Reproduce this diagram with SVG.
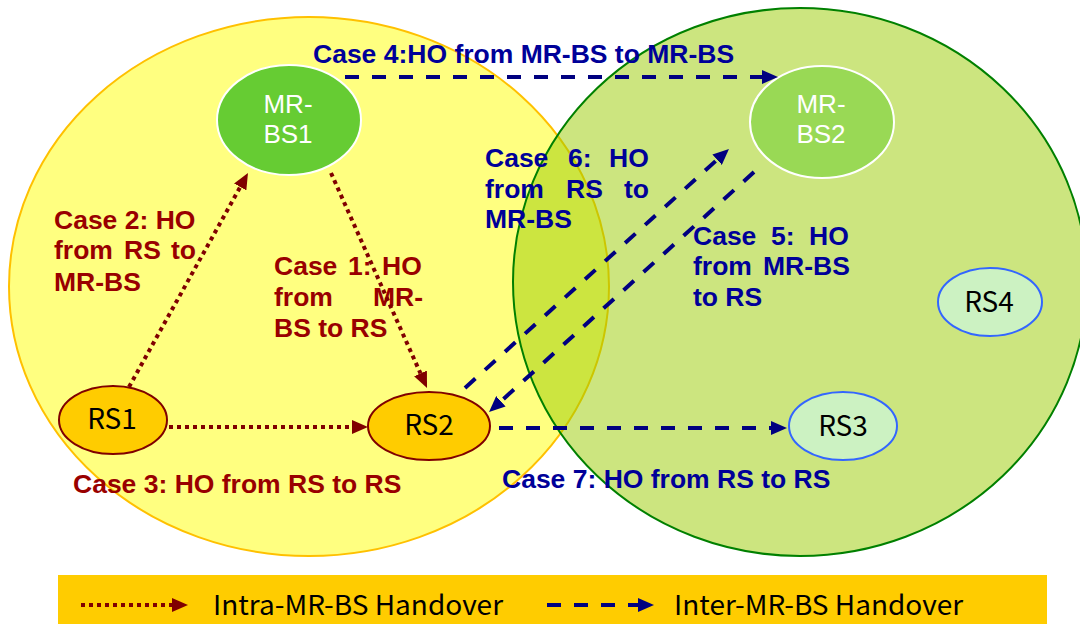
<svg xmlns="http://www.w3.org/2000/svg" width="1080" height="626" viewBox="0 0 1080 626">
<style>
.lbl{font-family:"Liberation Sans",Arial,sans-serif;font-weight:bold;font-size:26.5px}
.red{fill:#990000}
.blue{fill:#000099}
.bs{font-family:"Liberation Sans",Arial,sans-serif;font-size:26px;fill:#ffffff;text-anchor:middle}
.rs{font-family:"Noto Sans CJK KR","Liberation Sans",sans-serif;font-size:28px;fill:#000000;text-anchor:middle}
.leg{font-family:"Noto Sans CJK KR","Liberation Sans",sans-serif;font-size:27px;fill:#000000}
.intra{stroke:#800000;stroke-width:4;stroke-dasharray:4 4;fill:none}
.inter{stroke:#000080;stroke-width:4;stroke-dasharray:14 13;fill:none}
.rsy{fill:#ffcc00;stroke:#800000;stroke-width:2}
.rsg{fill:#ccf2c2;stroke:#3366ff;stroke-width:2}
</style>
<defs>
<marker id="ar" markerWidth="16" markerHeight="14" refX="0" refY="7" orient="auto" markerUnits="userSpaceOnUse"><path d="M0,0 L16,7 L0,14 z" fill="#800000"/></marker>
<marker id="ab" markerWidth="16" markerHeight="14" refX="0" refY="7" orient="auto" markerUnits="userSpaceOnUse"><path d="M0,0 L16,7 L0,14 z" fill="#000080"/></marker>
</defs>
<rect width="1080" height="626" fill="#ffffff"/>
<g id="cell1"><ellipse cx="309" cy="286.5" rx="300" ry="269.5" fill="#ffff80" stroke="#ffc000" stroke-width="2"/></g>
<g id="cell2"><ellipse cx="800" cy="282" rx="287" ry="274" fill="#99cc00" fill-opacity="0.5" stroke="#008000" stroke-width="2"/></g>
<g id="legend">
<rect x="58" y="575" width="989" height="49" fill="#ffcc00"/>
<line class="intra" x1="81" y1="605" x2="172" y2="605" marker-end="url(#ar)"/>
<text class="leg" x="213" y="615" textLength="290" lengthAdjust="spacingAndGlyphs">Intra-MR-BS Handover</text>
<line class="inter" x1="547" y1="605" x2="638" y2="605" marker-end="url(#ab)"/>
<text class="leg" x="674" y="615" textLength="289" lengthAdjust="spacingAndGlyphs">Inter-MR-BS Handover</text>
</g>
<g id="MR-BS1"><ellipse cx="289" cy="120" rx="72" ry="55" fill="#66cc33" stroke="#ffffff" stroke-width="2"/><text class="bs" x="288" y="113">MR-</text><text class="bs" x="288" y="143">BS1</text></g>
<g id="MR-BS2"><ellipse cx="822" cy="122" rx="72" ry="56" fill="#99d955" stroke="#ffffff" stroke-width="2"/><text class="bs" x="821" y="113">MR-</text><text class="bs" x="821" y="143">BS2</text></g>
<g id="RS1"><ellipse class="rsy" cx="113" cy="420" rx="54" ry="34"/><text class="rs" x="112" y="429">RS1</text></g>
<g id="RS2"><ellipse class="rsy" cx="429" cy="426" rx="61" ry="34"/><text class="rs" x="429" y="435">RS2</text></g>
<g id="RS3"><ellipse class="rsg" cx="843" cy="426" rx="54" ry="34"/><text class="rs" x="843" y="436">RS3</text></g>
<g id="RS4"><ellipse class="rsg" cx="990" cy="302" rx="52" ry="34"/><text class="rs" x="989" y="312">RS4</text></g>
<g id="labels">
<text class="lbl blue" x="313" y="63">Case 4:HO from MR-BS to MR-BS</text>
<text class="lbl red"><tspan x="54" y="229">Case 2: HO</tspan><tspan x="54" y="259">from</tspan><tspan x="124" y="259">RS</tspan><tspan x="171" y="259">to</tspan><tspan x="54" y="291">MR-BS</tspan></text>
<text class="lbl red"><tspan x="274" y="275">Case</tspan><tspan x="348" y="275">1:</tspan><tspan x="382" y="275">HO</tspan><tspan x="274" y="306">from</tspan><tspan x="373" y="306">MR-</tspan><tspan x="274" y="337">BS to RS</tspan></text>
<text class="lbl blue"><tspan x="485" y="167">Case</tspan><tspan x="568" y="167">6:</tspan><tspan x="609" y="167">HO</tspan><tspan x="485" y="198">from</tspan><tspan x="566" y="198">RS</tspan><tspan x="624" y="198">to</tspan><tspan x="485" y="228">MR-BS</tspan></text>
<text class="lbl blue"><tspan x="693" y="245">Case</tspan><tspan x="771" y="245">5:</tspan><tspan x="809" y="245">HO</tspan><tspan x="693" y="275">from</tspan><tspan x="763" y="275">MR-BS</tspan><tspan x="693" y="306">to RS</tspan></text>
<text class="lbl red" x="73" y="493">Case 3: HO from RS to RS</text>
<text class="lbl blue" x="502" y="488">Case 7: HO from RS to RS</text>
</g>
<g id="connectors">
<line class="intra" x1="129" y1="387" x2="240.2" y2="187" marker-end="url(#ar)"/>
<line class="intra" x1="331" y1="173" x2="420.5" y2="373.4" marker-end="url(#ar)"/>
<line class="intra" x1="169" y1="427" x2="352" y2="427" marker-end="url(#ar)"/>
<line class="inter" x1="345" y1="77" x2="762" y2="77" marker-end="url(#ab)"/>
<line class="inter" x1="465" y1="388" x2="717.1" y2="159.7" marker-end="url(#ab)"/>
<line class="inter" x1="754" y1="172" x2="500.9" y2="401.3" marker-end="url(#ab)"/>
<line class="inter" x1="499" y1="428" x2="771" y2="428" marker-end="url(#ab)"/>
</g>
</svg>
